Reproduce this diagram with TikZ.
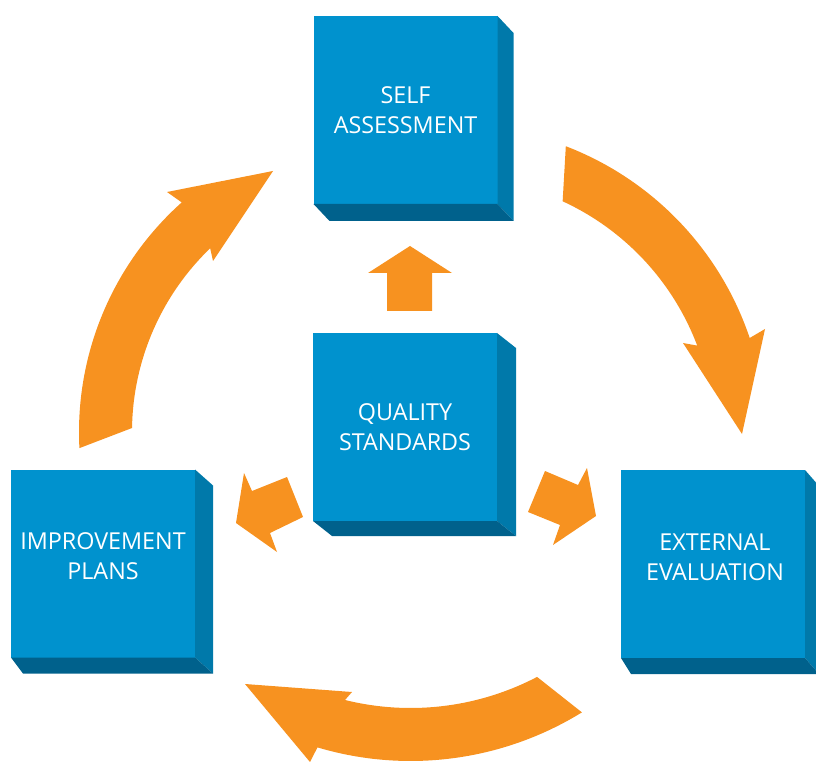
\documentclass[tikz,border=0pt]{standalone}
\usepackage{fontspec}
\setmainfont{Open Sans}
\usepackage{tikz}
\usetikzlibrary{calc}
\definecolor{boxfront}{RGB}{0,146,206}
\definecolor{boxside}{RGB}{0,121,170}
\definecolor{boxbottom}{RGB}{0,97,140}
\definecolor{arroworange}{RGB}{247,146,32}

\begin{document}
\begin{tikzpicture}[x=0.75pt,y=0.75pt,yscale=-1,xscale=1,
  cube/.style={fill=boxfront, minimum width=138pt, minimum height=141pt, inner sep=0pt, outer sep=0pt},
  cubetext/.style={text=white, inner sep=0.75pt, align=center, font=\fontsize{17.5}{22.5}\selectfont},
  sideface/.style={fill=boxside},
  bottomface/.style={fill=boxbottom},
  blockarrow/.style={fill=arroworange}]
\useasboundingbox (0,0) rectangle (816,762);
%Shape: Arc Arrow (self assessment -> external evaluation)
\coordinate (cR) at (454,437.5);
\fill[blockarrow] ($(cR)+(-69:312)$) arc[start angle=-69, end angle=-18.6, radius=312] -- (765,329) -- (742,434) -- (683,343) -- ($(cR)+(-20.7:260)$) arc[start angle=-20.7, end angle=-65.3, radius=260] -- cycle ;
%Shape: Arc Arrow (external evaluation -> improvement plans)
\coordinate (cB) at (410.6,435);
\fill[blockarrow] ($(cB)+(58.3:326)$) arc[start angle=58.3, end angle=106.6, radius=326] -- (310,762) -- (245,684) -- (352,692) -- ($(cB)+(103.9:273)$) arc[start angle=103.9, end angle=62.4, radius=273] -- cycle ;
%Shape: Arc Arrow (improvement plans -> self assessment)
\coordinate (cL) at (387,432);
\fill[blockarrow] ($(cL)+(177:308)$) arc[start angle=177, end angle=228.2, radius=308] -- (167,192) -- (273,171) -- (213,261) -- ($(cL)+(226.1:255)$) arc[start angle=226.1, end angle=180.9, radius=255] -- cycle ;
%Shape: Up Arrow
\fill[blockarrow] (410,246) -- (452,273) -- (432,273) -- (432,311) -- (387,311) -- (387,273) -- (368,273) -- cycle ;
%Shape: Left Arrow
\fill[blockarrow] (236,523) -- (244,473) -- (252,491) -- (287,477) -- (303,517) -- (270,533) -- (277,552) -- cycle ;
%Shape: Right Arrow
\fill[blockarrow] (596,516) -- (587,468) -- (578,485) -- (545,471) -- (528,512) -- (560,525) -- (553,545) -- cycle ;
%Shape: Cube [self assessment]
\node[cube] (sa) at (405.5,110) {};
\fill[sideface] (sa.north east) -- ($(sa.north east)+(16,17)$) -- ($(sa.south east)+(16,17)$) -- (sa.south east) -- cycle ;
\fill[bottomface] (sa.south west) -- ($(sa.south west)+(16,17)$) -- ($(sa.south east)+(16,17)$) -- (sa.south east) -- cycle ;
%Shape: Cube [quality standards]
\node[cube] (qs) at (405,427) {};
\fill[sideface] (qs.north east) -- ($(qs.north east)+(19,15)$) -- ($(qs.south east)+(19,15)$) -- (qs.south east) -- cycle ;
\fill[bottomface] (qs.south west) -- ($(qs.south west)+(19,15)$) -- ($(qs.south east)+(19,15)$) -- (qs.south east) -- cycle ;
%Shape: Cube [improvement plans]
\node[cube] (ip) at (103,563.5) {};
\fill[sideface] (ip.north east) -- ($(ip.north east)+(18,16)$) -- ($(ip.south east)+(18,16)$) -- (ip.south east) -- cycle ;
\fill[bottomface] (ip.south west) -- ($(ip.south west)+(12,16)$) -- ($(ip.south east)+(18,16)$) -- (ip.south east) -- cycle ;
%Shape: Cube [external evaluation]
\node[cube] (ee) at (713,564) {};
\fill[sideface] (ee.north east) -- ($(ee.north east)+(14,16)$) -- ($(ee.south east)+(14,16)$) -- (ee.south east) -- cycle ;
\fill[bottomface] (ee.south west) -- ($(ee.south west)+(10,16)$) -- ($(ee.south east)+(14,16)$) -- (ee.south east) -- cycle ;
% Text Node
\node[cubetext] (sa-text) at (sa) {SELF\\ASSESSMENT};
% Text Node
\node[cubetext] (qs-text) at (qs) {QUALITY\\STANDARDS};
% Text Node
\node[cubetext] (ip-text) at ($(ip)+(0,-7)$) {IMPROVEMENT\\PLANS};
% Text Node
\node[cubetext] (ee-text) at ($(ee)+(2,-7)$) {EXTERNAL\\EVALUATION};
\end{tikzpicture}
\end{document}
